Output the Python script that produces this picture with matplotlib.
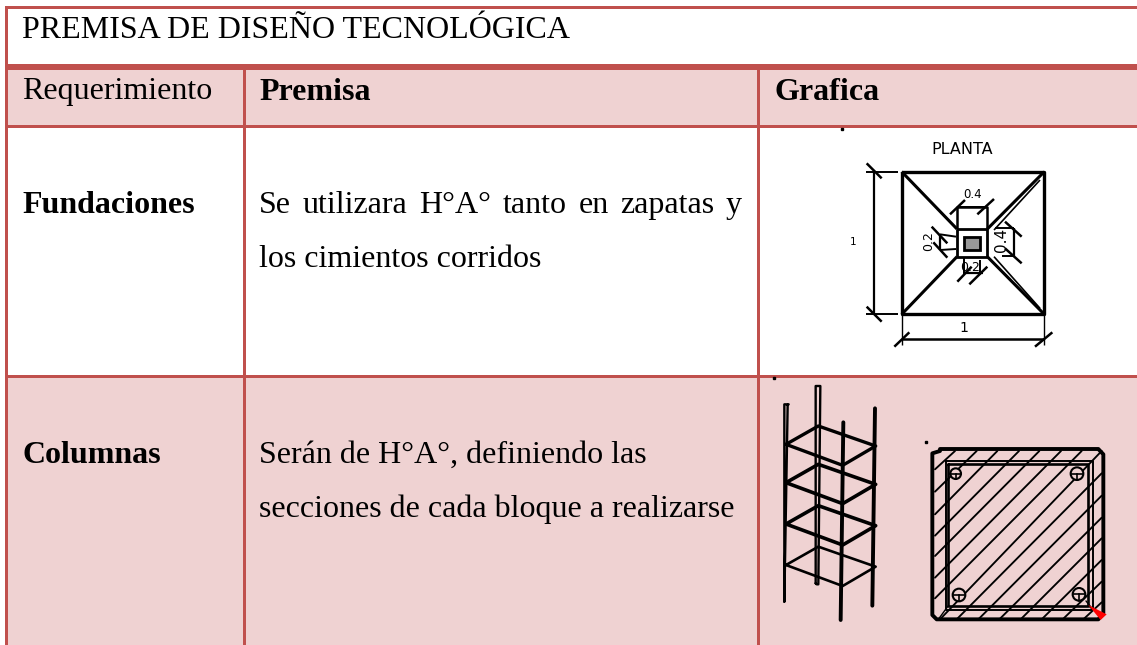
import numpy as np
import matplotlib
matplotlib.use('Agg')
import matplotlib.pyplot as plt
from matplotlib.patches import Rectangle, Polygon

plt.rcParams['font.family'] = ['Liberation Serif', 'DejaVu Sans']

BORDER = '#C0504D'
PINK = '#EFD2D2'

titulo = 'PREMISA DE DISEÑO TECNOLÓGICA'
encabezados = ['Requerimiento', 'Premisa', 'Grafica']
filas = ['Fundaciones', 'Columnas']
premisa1 = ['Se utilizara H°A° tanto en zapatas y', 'los cimientos corridos']
premisa2 = ['Serán de H°A°, definiendo las', 'secciones de cada bloque a realizarse']

fig = plt.figure(figsize=(11.37, 6.45), dpi=100)
ax = fig.add_axes([0, 0, 1, 1])
ax.set_xlim(0, 1137)
ax.set_ylim(645, 0)
ax.axis('off')

#%% fondo de la tabla
ax.add_patch(Rectangle((6, 7), 1131, 60, fc='white', ec='none'))
ax.add_patch(Rectangle((6, 67), 1131, 60, fc=PINK, ec='none'))
ax.add_patch(Rectangle((6, 127), 1131, 250, fc='white', ec='none'))
ax.add_patch(Rectangle((6, 377), 1131, 268, fc=PINK, ec='none'))

# bordes
for y, g in [(7.5, 3), (67, 6), (126.7, 3.3), (376.5, 3.3)]:
    ax.add_patch(Rectangle((5, y - g / 2), 1132, g, fc=BORDER, ec='none'))
ax.add_patch(Rectangle((5, 6), 3, 639, fc=BORDER, ec='none'))
for x in [244.5, 758.5]:
    ax.add_patch(Rectangle((x - 1.4, 70), 2.8, 575, fc=BORDER, ec='none'))

#%% textos
FS = 23
ax.text(22, 37.7, titulo, fontsize=FS, va='baseline', color='black')
ax.text(22, 99.5, encabezados[0], fontsize=FS, va='baseline')
ax.text(259, 99.5, encabezados[1], fontsize=FS, va='baseline', fontweight='bold')
ax.text(774, 99.5, encabezados[2], fontsize=FS, va='baseline', fontweight='bold')
ax.text(22, 212.7, filas[0], fontsize=FS, va='baseline', fontweight='bold')
ax.text(22, 462.7, filas[1], fontsize=FS, va='baseline', fontweight='bold')

# primera linea justificada
palabras = premisa1[0].split(' ')
r = fig.canvas.get_renderer()
anchos = []
for p in palabras:
    t = ax.text(0, 0, p, fontsize=FS)
    anchos.append(t.get_window_extent(r).width)
    t.remove()
hueco = (742 - 259 - sum(anchos)) / (len(palabras) - 1)
xt = 259
for p, w in zip(palabras, anchos):
    ax.text(xt, 212.7, p, fontsize=FS, va='baseline')
    xt += w + hueco
ax.text(259, 267.3, premisa1[1], fontsize=FS, va='baseline')
ax.text(259, 462.7, premisa2[0], fontsize=FS, va='baseline')
ax.text(259, 517.3, premisa2[1], fontsize=FS, va='baseline')


#%% dibujo planta (coordenadas del recorte x3)
def p1(x, y):
    return 830 + x / 3, 125 + y / 3


def lin1(x, y, lw=1.5):
    q = [p1(a, b) for a, b in zip(x, y)]
    ax.plot([a for a, b in q], [b for a, b in q], color='black', lw=lw, solid_capstyle='butt')


lin1([215, 643, 643, 215, 215], [140, 140, 568, 568, 140], 2.4)
lin1([215, 381], [140, 312], 2.2)
lin1([643, 472], [140, 312], 2.2)
lin1([215, 381], [568, 395], 2.2)
lin1([643, 472], [568, 395], 2.2)
lin1([630, 492], [165, 315], 1.2)
lin1([630, 492], [550, 395], 1.2)
lin1([381, 472, 472, 381, 381], [312, 312, 395, 395, 312], 2)
lin1([381, 381, 472, 472], [312, 245, 245, 312], 1.8)
ax.add_patch(Rectangle(p1(403, 335), 47 / 3, 40 / 3, fc='#999999', ec='black', lw=2))
# cotas
lin1([108, 205], [140, 140], 1.4)
lin1([108, 205], [568, 568], 1.4)
lin1([133, 133], [140, 568], 1.6)
lin1([110, 155], [115, 160], 1.8)
lin1([110, 155], [545, 590], 1.8)
lin1([215, 643], [643, 643], 1.8)
lin1([215, 215], [568, 660], 1)
lin1([643, 643], [568, 660], 1)
lin1([193, 238], [665, 622], 1.8)
lin1([615, 667], [665, 622], 1.8)
lin1([360, 405], [268, 225], 1.8)
lin1([442, 492], [268, 222], 1.8)
lin1([381, 472], [245, 245], 1.4)
lin1([330, 330], [328, 375], 1.6)
lin1([330, 378], [328, 335], 1.4)
lin1([330, 378], [375, 372], 1.4)
lin1([305, 352], [305, 355], 1.8)
lin1([310, 352], [352, 398], 1.8)
lin1([552, 552], [310, 393], 1.6)
lin1([495, 552], [310, 310], 1.4)
lin1([515, 552], [393, 393], 1.4)
lin1([525, 575], [290, 335], 1.8)
lin1([525, 575], [370, 415], 1.8)
lin1([403, 403], [395, 450], 1.4)
lin1([450, 450], [405, 450], 1.4)
lin1([400, 460], [445, 445], 1.6)
lin1([382, 425], [470, 425], 1.8)
lin1([418, 472], [478, 425], 1.8)
for s, x, y, fs, rot in [('PLANTA', 397, 75, 11.5, 0), ('0.4', 428, 208, 8.5, 0), ('1', 68, 350, 7.5, 0),
                         ('1', 402, 610, 10, 0), ('0.2', 297, 348, 9, 90), ('0.4', 515, 345, 11, 90),
                         ('0.2', 420, 428, 9, 0)]:
    a, b = p1(x, y)
    ax.text(a, b, s, fontsize=fs, ha='center', va='center', rotation=rot, family='DejaVu Sans')
a, b = p1(36, 12)
ax.plot(a, b, 's', color='black', ms=1.6)


#%% dibujo columnas (coordenadas del recorte x3)
def p2(x, y):
    return 760 + x / 3, 375 + y / 3


def lin2(x, y, lw=1.5):
    q = [p2(a, b) for a, b in zip(x, y)]
    ax.plot([a for a, b in q], [b for a, b in q], color='black', lw=lw, solid_capstyle='round')


# barras verticales
lin2([73, 73, 86, 83, 73], [680, 88, 88, 90, 680], 1.7)
lin2([167, 167, 181, 175, 170, 167], [625, 33, 33, 628, 628, 625], 1.7)
lin2([250, 242], [142, 735], 2.8)
lin2([345, 337], [100, 692], 2.8)
# estribos
est_y = [208, 323, 447, 570]
lws = [2.4, 2.6, 2.6, 1.9]
for y0, lw in zip(est_y, lws):
    lin2([78, 175, 347, 248, 78], [y0, y0 - 55, y0 + 5, y0 + 63, y0], lw)

# seccion
lin2([540, 1015, 1030, 1030, 1015, 530, 517, 517, 540],
     [222, 222, 238, 715, 733, 733, 720, 235, 228], 2.8)
lin2([558, 1000, 1000, 558, 558], [258, 258, 705, 705, 258], 1.4)
lin2([565, 985, 985, 565, 565], [268, 268, 692, 692, 268], 1.9)
lin2([985, 1000], [692, 705], 1)
lin2([565, 535], [692, 733], 1)
# rayado
ini = [(525, 283), (525, 350), (525, 418), (525, 482), (525, 543), (525, 608), (525, 670),
       (540, 733), (590, 733), (655, 733), (718, 733), (782, 733), (845, 733), (908, 733), (970, 733)]
fin = [(585, 228), (650, 228), (712, 228), (777, 228), (838, 228), (903, 228), (965, 228),
       (1025, 228), (1025, 295), (1025, 362), (1025, 428), (1025, 490), (1025, 555), (1025, 620), (1025, 682)]
for (x0, y0), (x1, y1) in zip(ini, fin):
    lin2([x0, x1], [y0, y1], 1.35)
# varillas
for x, y, rr in [(587, 296, 16), (951, 296, 19), (597, 660, 19), (957, 658, 19)]:
    a, b = p2(x, y)
    ax.add_patch(plt.Circle((a, b), rr / 3, fc=PINK, ec='black', lw=1.5, zorder=4))
    xa, ya = p2(x - rr, y)
    xb, yb = p2(x + rr, y)
    ax.plot([xa, xb], [ya, yb], color='black', lw=1.2, zorder=5)
    xa, ya = p2(x, y)
    xb, yb = p2(x, y + rr)
    ax.plot([xa, xb], [ya, yb], color='black', lw=1.2, zorder=5)
# flecha roja
ax.add_patch(Polygon([p2(985, 690), p2(1040, 718), p2(1022, 735)], fc='#FF0000', ec='none', zorder=6))
lin2([978, 1000], [678, 705], 1)
a, b = p2(499, 201)
ax.plot(a, b, 's', color='black', ms=1.5)
a, b = p2(43, 8)
ax.plot(a, b, 's', color='black', ms=1.5, zorder=6)

fig.savefig('out.png', dpi=100)
